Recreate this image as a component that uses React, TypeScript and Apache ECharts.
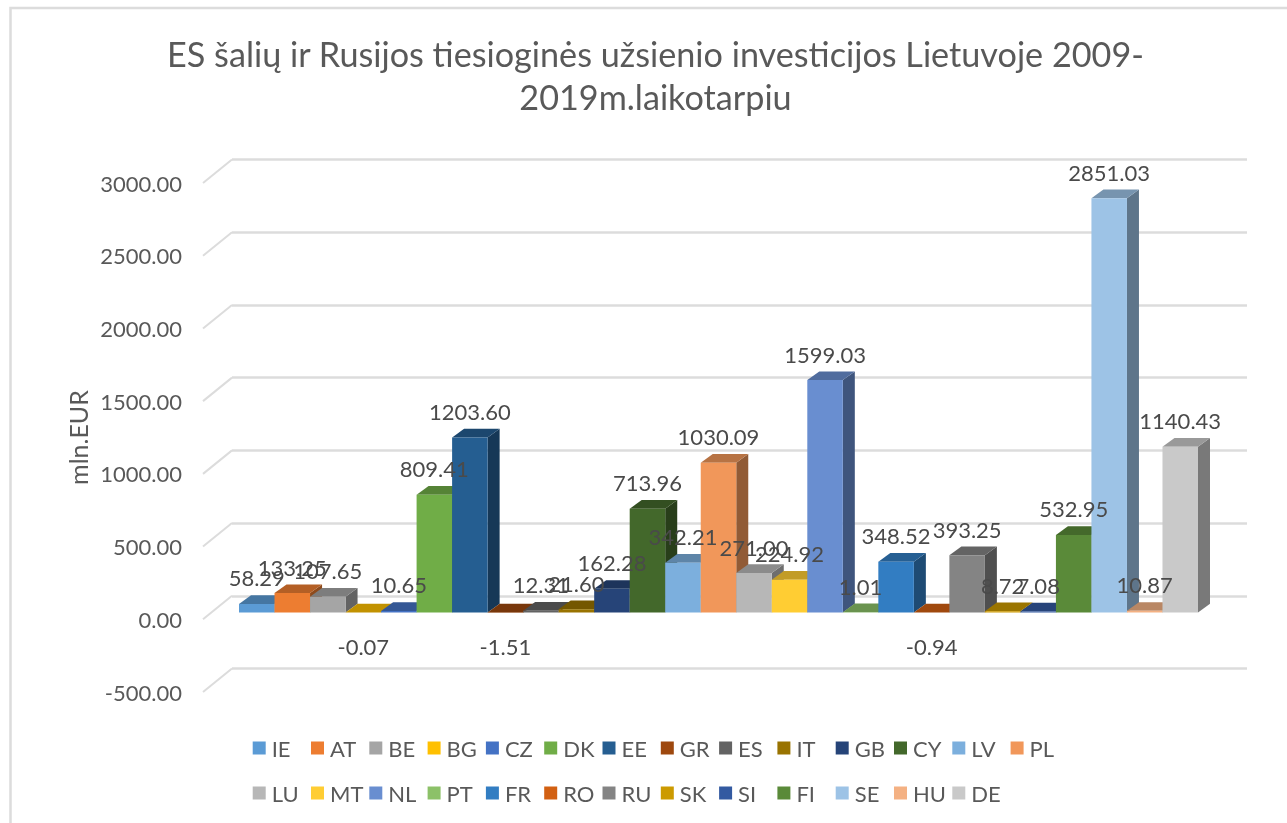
import React, { useEffect, useRef } from "react";
import * as echarts from "echarts";

const countries = ["IE","AT","BE","BG","CZ","DK","EE","GR","ES","IT","GB","CY","LV","PL","LU","MT","NL","PT","FR","RO","RU","SK","SI","FI","SE","HU","DE"];
const values = [58.29,133.25,107.65,-0.07,10.65,809.41,1203.6,-1.51,12.31,21.6,162.28,713.96,342.21,1030.09,271.0,224.92,1599.03,1.01,348.52,-0.94,393.25,8.72,7.08,532.95,2851.03,10.87,1140.43];
const colors = ["#5B9BD5","#ED7D31","#A5A5A5","#FFC000","#4472C4","#70AD47","#255E91","#9E480E","#636363","#997300","#264478","#43682B","#7CAFDD","#F1975A","#B7B7B7","#FFCD33","#698ED0","#8CC168","#327DC2","#D26012","#848484","#CC9A00","#335AA1","#5A8A39","#9DC3E6","#F4B183","#C9C9C9"];
const yTicks = [-500,0,500,1000,1500,2000,2500,3000];
const titleText = "ES šalių ir Rusijos tiesioginės užsienio investicijos Lietuvoje 2009-\n2019m.laikotarpiu";
const FONT = "Lato";
const TXT = "#595959";
const DX = 12, DY = -8.7;
const LEGEND_COLS = 14;

function shade(hex: string, f: number) {
  const n = parseInt(hex.slice(1), 16);
  const c = [(n >> 16) & 255, (n >> 8) & 255, n & 255].map((v) => Math.round(v * f));
  return `rgb(${c[0]},${c[1]},${c[2]})`;
}

export default function App() {
  const ref = useRef<HTMLDivElement>(null);
  useEffect(() => {
    const chart = echarts.init(ref.current!, undefined, { renderer: "svg" });
    const grids = [
      { left: 203, width: 29, top: 183, height: 509 },
      { left: 239, width: 959, top: 176.5, height: 508.6 },
      { left: 232, width: 1015, top: 159.5, height: 509 },
    ];
    const axisY = (i: number, extra: any = {}) => ({
      type: "value", gridIndex: i, min: -500, max: 3000, interval: 500,
      axisLine: { show: false }, axisTick: { show: false }, axisLabel: { show: false }, splitLine: { show: false }, ...extra,
    });
    const barSeries = countries.map((name, i) => ({
      name, type: "custom", xAxisIndex: 1, yAxisIndex: 1, z: 5,
      itemStyle: { color: colors[i] },
      data: [[i, values[i]]],
      renderItem: (_: any, api: any) => {
        const w = api.size([1, 0])[0];
        const cx = api.coord([api.value(0), 0])[0];
        const y0 = api.coord([0, 0])[1];
        const yv = api.coord([0, api.value(1)])[1];
        const x0 = cx - w / 2, x1 = cx + w / 2;
        const top = Math.min(y0, yv), bot = Math.max(y0, yv);
        return {
          type: "group",
          children: [
            { type: "polygon", shape: { points: [[x1, top], [x1 + DX, top + DY], [x1 + DX, bot + DY], [x1, bot]] }, style: { fill: shade(colors[i], 0.6) } },
            { type: "polygon", shape: { points: [[x0, top], [x0 + DX, top + DY], [x1 + DX, top + DY], [x1, top]] }, style: { fill: shade(colors[i], 0.76) } },
            { type: "rect", shape: { x: x0, y: top, width: w, height: bot - top }, style: { fill: colors[i] } },
          ],
        };
      },
    }));
    chart.setOption({
      animation: false,
      backgroundColor: "#fff",
      title: {
        text: titleText, left: 650.5, top: 27, textAlign: "center",
        textStyle: { fontFamily: FONT, fontSize: 34.2, fontWeight: "normal", color: TXT, lineHeight: 43 },
      },
      grid: grids,
      xAxis: grids.map((_, i) => ({
        type: i === 1 ? "category" : "value", gridIndex: i, show: false,
        ...(i === 1 ? { data: countries } : { min: 0, max: 1 }),
      })),
      yAxis: [
        axisY(0, {
          axisLabel: { show: true, margin: 21, fontFamily: FONT, fontSize: 22, color: TXT, formatter: (v: number) => v.toFixed(2) },
          name: "mln.EUR", nameLocation: "middle", nameGap: 113, nameRotate: 90,
          nameTextStyle: { fontFamily: FONT, fontSize: 25, color: TXT },
        }),
        axisY(1),
        axisY(2, { splitLine: { show: true, lineStyle: { color: "#dcdcdc", width: 2.5 } } }),
      ],
      legend: countries.map((name, i) => ({
        data: [name],
        left: 252.7 + (i % LEGEND_COLS) * 58.3,
        top: i < LEGEND_COLS ? 737 : 782,
        icon: "rect", itemWidth: 13, itemHeight: 13,
        orient: "horizontal", selectedMode: false, padding: 0,
        textStyle: { fontFamily: FONT, fontSize: 22, color: TXT, padding: [0, 0, 0, 1] },
      })),
      series: [
        {
          type: "custom", name: "walls", xAxisIndex: 0, yAxisIndex: 0, z: 1, silent: true,
          data: yTicks.map((v) => [0, v]),
          renderItem: (_: any, api: any) => {
            const a = api.coord([0, api.value(1)]);
            const b = api.coord([1, api.value(1)]);
            return { type: "line", shape: { x1: a[0], y1: a[1], x2: b[0], y2: b[1] - 23.5 }, style: { stroke: "#dcdcdc", lineWidth: 2 } };
          },
        },
        ...barSeries,
        {
          type: "custom", name: "labels", xAxisIndex: 1, yAxisIndex: 1, z: 10, silent: true,
          data: values.map((v, i) => [i, v]),
          renderItem: (_: any, api: any) => {
            const v = api.value(1);
            const p = api.coord([api.value(0), v]);
            return {
              type: "text",
              style: {
                text: v.toFixed(2), x: p[0], y: v < 0 ? p[1] + 34 : p[1] - 26,
                align: "center", verticalAlign: "middle", fontFamily: FONT, fontSize: 22, fill: "#4a4a4a",
              },
            };
          },
        },
      ],
      graphic: [
        { type: "rect", z: 0, shape: { x: 10.5, y: 8, width: 1290, height: 830 }, style: { fill: "none", stroke: "#dcdcdc", lineWidth: 2.5 } },
      ],
    });
    return () => chart.dispose();
  }, []);
  return <div ref={ref} style={{ width: 1287, height: 823, position: "absolute", left: 0, top: 0, filter: "blur(0.4px)" }} />;
}
